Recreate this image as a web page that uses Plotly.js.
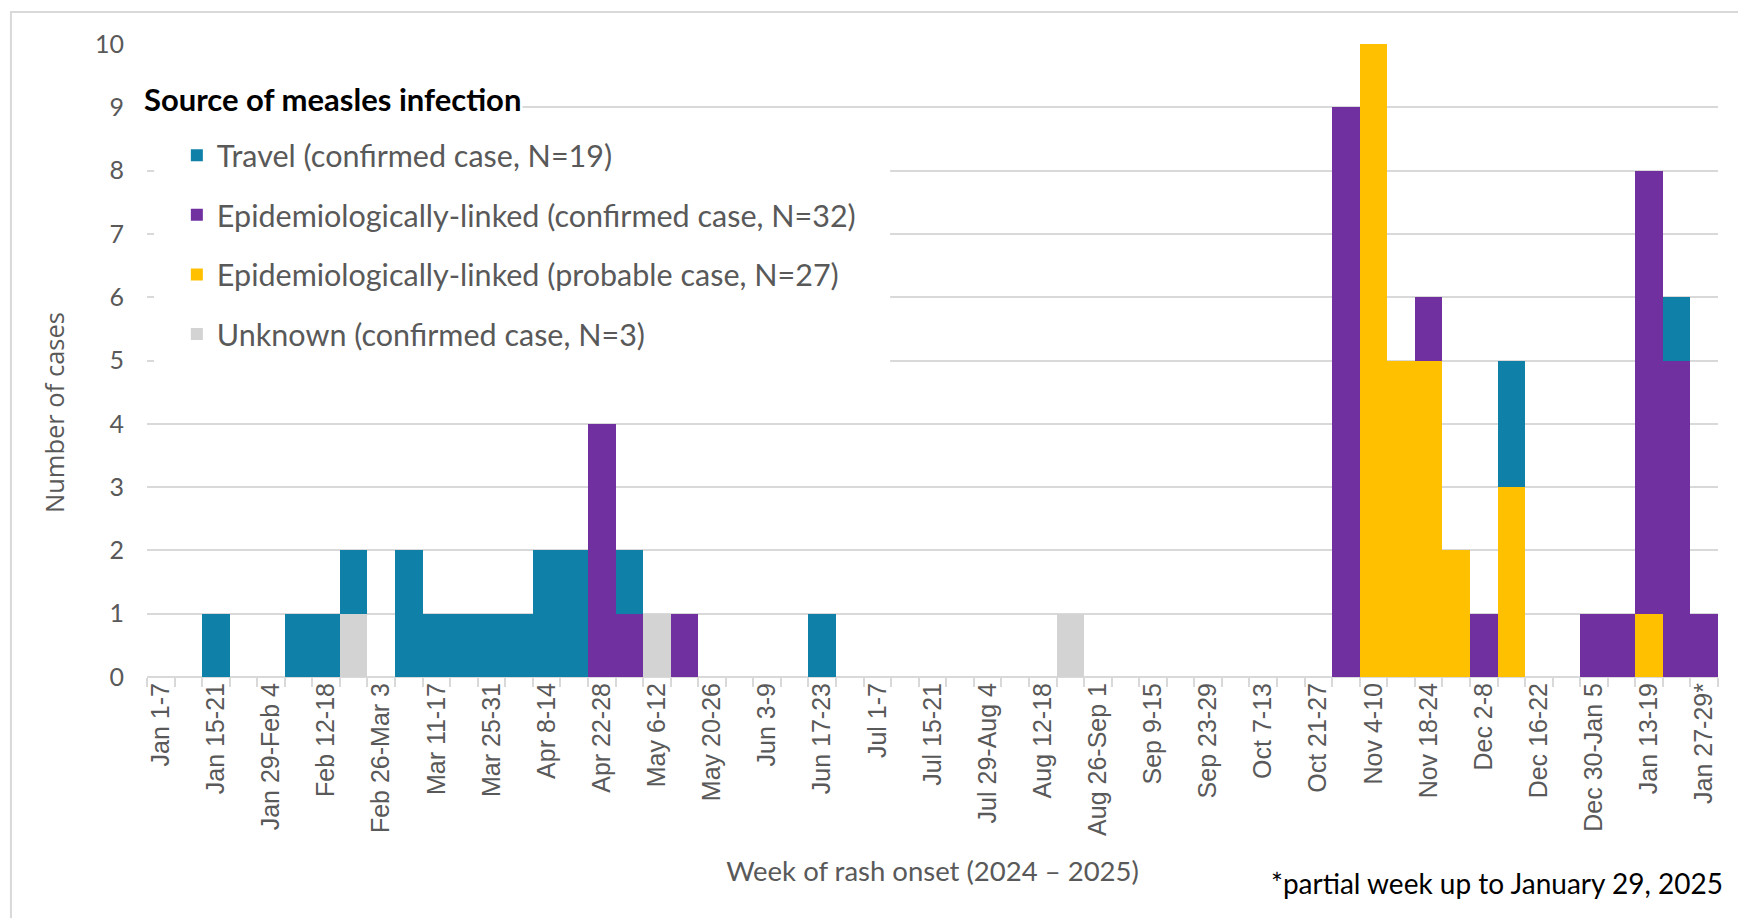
<!DOCTYPE html>
<html>
<head>
<meta charset="utf-8">
<script src="https://cdn.plot.ly/plotly-3.0.1.min.js"></script>
<style>
  html, body { margin: 0; padding: 0; background: #ffffff; }
  #chart { width: 1738px; height: 918px; }
</style>
</head>
<body>
<div id="chart"></div>
<script>
// Weeks of rash onset (2024 - 2025)
const weeks = [
  "Jan 1-7", "Jan 8-14", "Jan 15-21", "Jan 22-28", "Jan 29-Feb 4", "Feb 5-11", "Feb 12-18", "Feb 19-25",
  "Feb 26-Mar 3", "Mar 4-10", "Mar 11-17", "Mar 18-24", "Mar 25-31", "Apr 1-7", "Apr 8-14", "Apr 15-21",
  "Apr 22-28", "Apr 29-May 5", "May 6-12", "May 13-19", "May 20-26", "May 27-Jun 2", "Jun 3-9", "Jun 10-16",
  "Jun 17-23", "Jun 24-30", "Jul 1-7", "Jul 8-14", "Jul 15-21", "Jul 22-28", "Jul 29-Aug 4", "Aug 5-11",
  "Aug 12-18", "Aug 19-25", "Aug 26-Sep 1", "Sep 2-8", "Sep 9-15", "Sep 16-22", "Sep 23-29", "Sep 30-Oct 6",
  "Oct 7-13", "Oct 14-20", "Oct 21-27", "Oct 28-Nov 3", "Nov 4-10", "Nov 11-17", "Nov 18-24", "Nov 25-Dec 1",
  "Dec 2-8", "Dec 9-15", "Dec 16-22", "Dec 23-29", "Dec 30-Jan 5", "Jan 6-12", "Jan 13-19", "Jan 20-26",
  "Jan 27-29*"
];

// Tick labels shown on the axis (every other week)
const tickLabels = [
  "Jan 1-7", "", "Jan 15-21", "", "Jan 29-Feb 4", "", "Feb 12-18", "",
  "Feb 26-Mar 3", "", "Mar 11-17", "", "Mar 25-31", "", "Apr 8-14", "",
  "Apr 22-28", "", "May 6-12", "", "May 20-26", "", "Jun 3-9", "",
  "Jun 17-23", "", "Jul 1-7", "", "Jul 15-21", "", "Jul 29-Aug 4", "",
  "Aug 12-18", "", "Aug 26-Sep 1", "", "Sep 9-15", "", "Sep 23-29", "",
  "Oct 7-13", "", "Oct 21-27", "", "Nov 4-10", "", "Nov 18-24", "",
  "Dec 2-8", "", "Dec 16-22", "", "Dec 30-Jan 5", "", "Jan 13-19", "",
  "Jan 27-29*"
];

// Series (cases per week)
const travel = [
  0,0,1,0,0,1,1,1, 0,2,1,1,1,1,2,2, 0,1,0,0,0,0,0,0, 1,0,0,0,0,0,0,0,
  0,0,0,0,0,0,0,0, 0,0,0,0,0,0,0,0, 0,2,0,0,0,0,0,1, 0
];
const epiConfirmed = [
  0,0,0,0,0,0,0,0, 0,0,0,0,0,0,0,0, 4,1,0,1,0,0,0,0, 0,0,0,0,0,0,0,0,
  0,0,0,0,0,0,0,0, 0,0,0,9,0,0,1,0, 1,0,0,0,1,1,7,5, 1
];
const epiProbable = [
  0,0,0,0,0,0,0,0, 0,0,0,0,0,0,0,0, 0,0,0,0,0,0,0,0, 0,0,0,0,0,0,0,0,
  0,0,0,0,0,0,0,0, 0,0,0,0,10,5,5,2, 0,3,0,0,0,0,1,0, 0
];
const unknown = [
  0,0,0,0,0,0,0,1, 0,0,0,0,0,0,0,0, 0,0,1,0,0,0,0,0, 0,0,0,0,0,0,0,0,
  0,1,0,0,0,0,0,0, 0,0,0,0,0,0,0,0, 0,0,0,0,0,0,0,0, 0
];

// Stacking order bottom -> top, legend order given by legendRanks
const seriesNames = [
  "Unknown (confirmed case, N=3)",
  "Epidemiologically-linked (probable case, N=27)",
  "Epidemiologically-linked (confirmed case, N=32)",
  "Travel (confirmed case, N=19)"
];
const legendRanks = [4, 3, 2, 1];
const seriesColors = ["#D3D3D3", "#FFC000", "#7030A0", "#0F80A8"];
const seriesValues = [unknown, epiProbable, epiConfirmed, travel];

const traces = seriesValues.map((vals, k) => ({
  type: "bar",
  name: seriesNames[k],
  legendgroup: "g" + k,
  legendrank: legendRanks[k],
  x: weeks,
  y: vals,
  marker: { color: seriesColors[k], line: { width: 0 } },
  hovertemplate: "%{x}: %{y}<extra>" + seriesNames[k] + "</extra>"
}));

const gray = "#595959";
const grid = "#D9D9D9";

const layout = {
  width: 1738,
  height: 918,
  paper_bgcolor: "#ffffff",
  plot_bgcolor: "#ffffff",
  margin: { l: 147, r: 20, t: 44, b: 241, pad: 0 },
  barmode: "stack",
  bargap: 0,
  showlegend: true,
  legend: {
    x: 0.019, xanchor: "left",
    y: 0.866, yanchor: "top",
    bgcolor: "#ffffff",
    borderwidth: 0,
    traceorder: "grouped",
    tracegroupgap: 17,
    font: { family: "Lato, 'Open Sans', sans-serif", size: 30.5, color: gray }
  },
  xaxis: {
    type: "category",
    range: [-0.5, 56.5],
    tickmode: "array",
    tickvals: weeks,
    ticktext: tickLabels,
    tickson: "boundaries",
    ticks: "outside",
    ticklen: 9,
    tickwidth: 2,
    tickcolor: grid,
    tickangle: -90,
    tickfont: { family: "'Liberation Sans', Arial, sans-serif", size: 25, color: gray },
    showgrid: false,
    showline: false,
    zeroline: false,
    title: {
      text: "Week of rash onset (2024 \u2013 2025)",
      font: { family: "Lato, 'Open Sans', sans-serif", size: 27.5, color: gray },
      standoff: 26
    },
    automargin: false
  },
  yaxis: {
    range: [0, 10],
    tickmode: "linear",
    tick0: 0,
    dtick: 1,
    showgrid: true,
    gridcolor: grid,
    gridwidth: 2,
    zeroline: true,
    zerolinecolor: grid,
    zerolinewidth: 2,
    showline: false,
    ticks: "",
    ticklabelstandoff: 22,
    tickfont: { family: "Lato, 'Open Sans', sans-serif", size: 25, color: gray },
    automargin: false
  },
  annotations: [
    {
      text: "Number of cases",
      xref: "paper", yref: "paper",
      x: 0, y: 0.417,
      xshift: -93,
      xanchor: "center", yanchor: "middle",
      textangle: -90,
      showarrow: false,
      font: { family: "'Open Sans', sans-serif", size: 25.5, color: gray }
    },
    {
      text: "<b>Source of measles infection</b>",
      xref: "paper", yref: "paper",
      x: -0.003, y: 0.9125,
      xanchor: "left", yanchor: "middle",
      showarrow: false,
      bgcolor: "#ffffff",
      font: { family: "Lato, 'Open Sans', sans-serif", size: 31, color: "#000000" }
    },
    {
      text: "*partial week up to January 29, 2025",
      xref: "paper", yref: "paper",
      x: 0.7145, y: 0,
      yshift: -206,
      xanchor: "left", yanchor: "middle",
      showarrow: false,
      font: { family: "Lato, 'Open Sans', sans-serif", size: 28, color: "#000000" }
    }
  ],
  shapes: [
    {
      type: "rect",
      xref: "paper", yref: "paper",
      x0: -0.0866, x1: 1.02,
      y0: -0.4, y1: 1.0506,
      line: { color: grid, width: 2 },
      fillcolor: "rgba(0,0,0,0)",
      layer: "below"
    },
    {
      type: "rect",
      xref: "paper", yref: "paper",
      x0: 0.0045, x1: 0.473,
      y0: 0.44, y1: 0.84,
      line: { width: 0 },
      fillcolor: "#ffffff",
      layer: "above"
    }
  ]
};

Plotly.newPlot("chart", traces, layout, { displayModeBar: false, staticPlot: true });
</script>
</body>
</html>
